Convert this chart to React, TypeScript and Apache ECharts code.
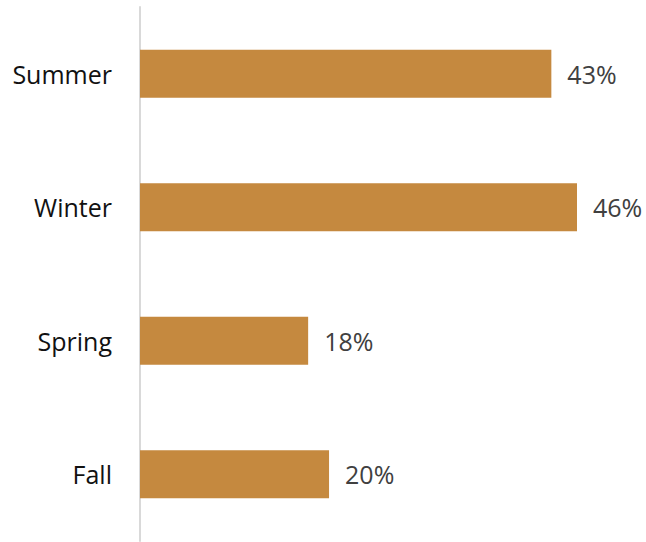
import React, { useEffect, useRef } from "react";
import * as echarts from "echarts";

const categories = ["Summer", "Winter", "Spring", "Fall"];
const values = [43.3, 46.0, 17.7, 19.9];

export default function App() {
  const ref = useRef<HTMLDivElement>(null);
  useEffect(() => {
    document.body.style.margin = "0";
    const chart = echarts.init(ref.current!, null, { renderer: "svg" });
    chart.setOption({
      animation: false,
      grid: { left: 140, right: 31, top: 7, bottom: 1, containLabel: false },
      xAxis: {
        type: "value",
        min: 0,
        max: 50,
        show: false,
      },
      yAxis: {
        type: "category",
        data: categories,
        inverse: true,
        axisLine: { show: true, lineStyle: { color: "#d9d9d9", width: 2 } },
        axisTick: { show: false },
        axisLabel: {
          margin: 28,
          fontSize: 25,
          fontFamily: "Open Sans",
          color: "#111111",
        },
      },
      series: [
        {
          type: "bar",
          data: values,
          barWidth: 48,
          itemStyle: { color: "#C5893F" },
          label: {
            show: true,
            position: "right",
            distance: 16,
            fontSize: 25,
            fontFamily: "Open Sans",
            color: "#404040",
            formatter: (p: any) => Math.round(p.value) + "%",
          },
        },
      ],
    });
    return () => chart.dispose();
  }, []);
  return <div ref={ref} style={{ width: 646, height: 542 }} />;
}
